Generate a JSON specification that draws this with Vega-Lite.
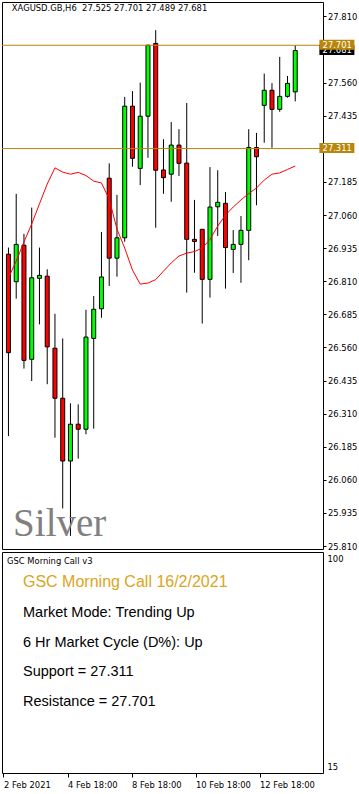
{
  "$schema": "https://vega.github.io/schema/vega-lite/v6.json",
  "background": "white",
  "padding": {"left": 1, "top": 1, "right": 0, "bottom": 0},
  "bounds": "flush",
  "spacing": 3,
  "config": {
    "view": {"stroke": "black", "strokeWidth": 1},
    "axis": {"labelFont": "DejaVu Sans", "labelFontSize": 8.4, "labelColor": "black", "tickColor": "black", "tickWidth": 1, "domain": false, "grid": false, "labelOverlap": false},
    "text": {"font": "DejaVu Sans"}
  },
  "datasets": {
    "candles": [
      {"i": 0, "t": "2021-02-02 18:00", "o": 26.912, "h": 26.937, "l": 26.225, "c": 26.540, "ma": 26.822},
      {"i": 1, "t": "2021-02-03 00:00", "o": 26.808, "h": 27.140, "l": 26.744, "c": 26.949, "ma": 26.886},
      {"i": 2, "t": "2021-02-03 06:00", "o": 26.946, "h": 26.989, "l": 26.480, "c": 26.511, "ma": 26.958},
      {"i": 3, "t": "2021-02-03 12:00", "o": 26.515, "h": 27.088, "l": 26.433, "c": 26.823, "ma": 27.026},
      {"i": 4, "t": "2021-02-03 18:00", "o": 26.821, "h": 26.937, "l": 26.647, "c": 26.832, "ma": 27.102},
      {"i": 5, "t": "2021-02-04 00:00", "o": 26.829, "h": 26.855, "l": 26.421, "c": 26.562, "ma": 27.177},
      {"i": 6, "t": "2021-02-04 06:00", "o": 26.557, "h": 26.687, "l": 26.219, "c": 26.368, "ma": 27.238},
      {"i": 7, "t": "2021-02-04 12:00", "o": 26.368, "h": 26.594, "l": 25.952, "c": 26.131, "ma": 27.222},
      {"i": 8, "t": "2021-02-04 18:00", "o": 26.131, "h": 26.349, "l": 25.848, "c": 26.270, "ma": 27.214},
      {"i": 9, "t": "2021-02-05 00:00", "o": 26.270, "h": 26.345, "l": 26.140, "c": 26.251, "ma": 27.221},
      {"i": 10, "t": "2021-02-05 06:00", "o": 26.251, "h": 26.702, "l": 26.232, "c": 26.599, "ma": 27.209},
      {"i": 11, "t": "2021-02-05 12:00", "o": 26.594, "h": 26.754, "l": 26.253, "c": 26.704, "ma": 27.188},
      {"i": 12, "t": "2021-02-05 18:00", "o": 26.706, "h": 26.996, "l": 26.672, "c": 26.826, "ma": 27.181},
      {"i": 13, "t": "2021-02-08 00:00", "o": 27.199, "h": 27.255, "l": 26.792, "c": 26.897, "ma": 27.120},
      {"i": 14, "t": "2021-02-08 06:00", "o": 26.897, "h": 27.136, "l": 26.827, "c": 26.974, "ma": 27.007},
      {"i": 15, "t": "2021-02-08 12:00", "o": 26.974, "h": 27.506, "l": 26.959, "c": 27.471, "ma": 26.935},
      {"i": 16, "t": "2021-02-08 18:00", "o": 27.471, "h": 27.528, "l": 27.242, "c": 27.274, "ma": 26.852},
      {"i": 17, "t": "2021-02-09 00:00", "o": 27.236, "h": 27.560, "l": 27.173, "c": 27.433, "ma": 26.799},
      {"i": 18, "t": "2021-02-09 06:00", "o": 27.433, "h": 27.703, "l": 27.276, "c": 27.701, "ma": 26.803},
      {"i": 19, "t": "2021-02-09 12:00", "o": 27.708, "h": 27.758, "l": 27.012, "c": 27.229, "ma": 26.816},
      {"i": 20, "t": "2021-02-09 18:00", "o": 27.230, "h": 27.346, "l": 27.140, "c": 27.201, "ma": 26.848},
      {"i": 21, "t": "2021-02-10 00:00", "o": 27.214, "h": 27.411, "l": 27.110, "c": 27.324, "ma": 26.879},
      {"i": 22, "t": "2021-02-10 06:00", "o": 27.324, "h": 27.384, "l": 27.207, "c": 27.255, "ma": 26.905},
      {"i": 23, "t": "2021-02-10 12:00", "o": 27.256, "h": 27.483, "l": 26.767, "c": 26.968, "ma": 26.916},
      {"i": 24, "t": "2021-02-10 18:00", "o": 26.968, "h": 27.117, "l": 26.842, "c": 26.960, "ma": 26.922},
      {"i": 25, "t": "2021-02-11 00:00", "o": 27.006, "h": 27.006, "l": 26.650, "c": 26.817, "ma": 26.935},
      {"i": 26, "t": "2021-02-11 06:00", "o": 26.817, "h": 27.241, "l": 26.748, "c": 27.090, "ma": 26.968},
      {"i": 27, "t": "2021-02-11 12:00", "o": 27.091, "h": 27.229, "l": 26.981, "c": 27.108, "ma": 27.018},
      {"i": 28, "t": "2021-02-11 18:00", "o": 27.104, "h": 27.147, "l": 26.782, "c": 26.937, "ma": 27.060},
      {"i": 29, "t": "2021-02-12 00:00", "o": 26.930, "h": 27.003, "l": 26.841, "c": 26.949, "ma": 27.090},
      {"i": 30, "t": "2021-02-12 06:00", "o": 26.949, "h": 27.056, "l": 26.804, "c": 27.002, "ma": 27.117},
      {"i": 31, "t": "2021-02-12 12:00", "o": 27.002, "h": 27.384, "l": 26.889, "c": 27.315, "ma": 27.141},
      {"i": 32, "t": "2021-02-12 18:00", "o": 27.315, "h": 27.370, "l": 27.097, "c": 27.280, "ma": 27.162},
      {"i": 33, "t": "2021-02-15 00:00", "o": 27.474, "h": 27.594, "l": 27.333, "c": 27.531, "ma": 27.192},
      {"i": 34, "t": "2021-02-15 06:00", "o": 27.531, "h": 27.558, "l": 27.314, "c": 27.459, "ma": 27.214},
      {"i": 35, "t": "2021-02-15 12:00", "o": 27.459, "h": 27.657, "l": 27.450, "c": 27.508, "ma": 27.219},
      {"i": 36, "t": "2021-02-15 18:00", "o": 27.508, "h": 27.585, "l": 27.503, "c": 27.557, "ma": 27.232},
      {"i": 37, "t": "2021-02-16 00:00", "o": 27.525, "h": 27.701, "l": 27.489, "c": 27.681, "ma": 27.245}
    ],
    "levels": [
      {"level": "Resistance", "price": 27.701},
      {"level": "Support", "price": 27.311}
    ],
    "last": [{"price": 27.681}],
    "symbol": [{"text": "XAGUSD.GB,H6\u00a0 27.525 27.701 27.489 27.681"}],
    "watermark": [{"text": "Silver"}],
    "caption": [{"text": "GSC Morning Call v3"}],
    "heading": [{"line": 0, "text": "GSC Morning Call 16/2/2021"}],
    "report": [
      {"line": 1, "text": "Market Mode: Trending Up"},
      {"line": 2, "text": "6 Hr Market Cycle (D%): Up"},
      {"line": 3, "text": "Support = 27.311"},
      {"line": 4, "text": "Resistance = 27.701"}
    ]
  },
  "vconcat": [
    {
      "width": 321,
      "height": 547,
      "layer": [
        {
          "data": {"name": "candles"},
          "mark": {"type": "rule", "color": "black", "strokeWidth": 1},
          "encoding": {
            "x": {"field": "i", "type": "quantitative", "scale": {"domain": [-0.1875, 39.9375], "nice": false, "zero": false}, "axis": null},
            "y": {"field": "l", "type": "quantitative", "title": null, "scale": {"domain": [25.7987, 27.86438], "nice": false, "zero": false},
                  "axis": {"title": null, "orient": "right", "values": [25.81, 25.935, 26.06, 26.185, 26.31, 26.435, 26.56, 26.685, 26.81, 26.935, 27.06, 27.185, 27.435, 27.56, 27.81], "tickCount": 30, "format": ".3f", "tickSize": 3, "labelPadding": 1.5, "labelOverlap": false}},
            "y2": {"field": "h"}
          }
        },
        {
          "data": {"name": "candles"},
          "mark": {"type": "bar", "width": 4, "stroke": "black", "strokeWidth": 1},
          "encoding": {
            "x": {"field": "i", "type": "quantitative", "axis": null},
            "y": {"field": "o", "type": "quantitative", "title": null},
            "y2": {"field": "c"},
            "color": {"condition": {"test": "datum.c >= datum.o", "value": "#00FF00"}, "value": "#FF0000"}
          }
        },
        {
          "data": {"name": "candles"},
          "mark": {"type": "line", "color": "#FF0000", "strokeWidth": 1},
          "encoding": {
            "x": {"field": "i", "type": "quantitative", "axis": null},
            "y": {"field": "ma", "type": "quantitative", "title": null}
          }
        },
        {
          "data": {"name": "levels"},
          "mark": {"type": "rule", "color": "#B8860B", "strokeWidth": 1},
          "encoding": {
            "y": {"field": "price", "type": "quantitative", "title": null}
          }
        },
        {
          "data": {"name": "symbol"},
          "mark": {"type": "text", "align": "left", "baseline": "middle", "fontSize": 8.4, "color": "black"},
          "encoding": {
            "x": {"datum": 0.4375, "type": "quantitative", "axis": null},
            "y": {"datum": 27.8406, "type": "quantitative", "title": null},
            "text": {"field": "text"}
          }
        },
        {
          "data": {"name": "watermark"},
          "mark": {"type": "text", "align": "left", "baseline": "alphabetic", "fontSize": 39, "font": "Liberation Serif", "color": "#808080"},
          "encoding": {
            "x": {"datum": 0.6, "type": "quantitative", "axis": null},
            "y": {"datum": 25.8478, "type": "quantitative", "title": null},
            "text": {"field": "text"}
          }
        },
        {
          "data": {"name": "last"},
          "mark": {"type": "bar", "width": 35, "color": "black", "yOffset": -5.5, "y2Offset": 4.5, "clip": false},
          "encoding": {
            "x": {"datum": 42.375, "type": "quantitative", "axis": null},
            "y": {"field": "price", "type": "quantitative", "title": null},
            "y2": {"field": "price"}
          }
        },
        {
          "data": {"name": "last"},
          "mark": {"type": "text", "align": "left", "baseline": "middle", "fontSize": 8.4, "color": "white", "dy": -0.5, "clip": false},
          "encoding": {
            "x": {"datum": 40.525, "type": "quantitative", "axis": null},
            "y": {"field": "price", "type": "quantitative", "title": null},
            "text": {"field": "price", "type": "quantitative", "format": ".3f"}
          }
        },
        {
          "data": {"name": "levels"},
          "mark": {"type": "bar", "width": 35, "color": "#B8860B", "yOffset": -5.5, "y2Offset": 4.5, "clip": false},
          "encoding": {
            "x": {"datum": 42.375, "type": "quantitative", "axis": null},
            "y": {"field": "price", "type": "quantitative", "title": null},
            "y2": {"field": "price"}
          }
        },
        {
          "data": {"name": "levels"},
          "mark": {"type": "text", "align": "left", "baseline": "middle", "fontSize": 8.4, "color": "white", "dy": -0.5, "clip": false},
          "encoding": {
            "x": {"datum": 40.525, "type": "quantitative", "axis": null},
            "y": {"field": "price", "type": "quantitative", "title": null},
            "text": {"field": "price", "type": "quantitative", "format": ".3f"}
          }
        }
      ]
    },
    {
      "width": 321,
      "height": 221,
      "layer": [
        {
          "data": {"name": "caption"},
          "mark": {"type": "text", "align": "left", "baseline": "middle", "fontSize": 8.4, "color": "black"},
          "encoding": {
            "x": {"datum": 0.4375, "type": "quantitative", "title": null, "scale": {"domain": [-0.1875, 39.9375], "nice": false, "zero": false},
                  "axis": {"title": null, "values": [0, 8, 16, 24, 32], "tickCount": 10, "labelExpr": "datum.value == 0 ? '2 Feb 2021' : datum.value == 8 ? '4 Feb 18:00' : datum.value == 16 ? '8 Feb 18:00' : datum.value == 24 ? '10 Feb 18:00' : '12 Feb 18:00'", "tickSize": 4, "labelPadding": 3, "labelAlign": "left", "labelBaseline": "top", "labelFlush": false, "labelOverlap": false}},
            "y": {"datum": 99.18, "type": "quantitative", "scale": {"domain": [12.253, 102.87], "nice": false, "zero": false},
                  "axis": {"title": null, "orient": "right", "values": [15, 100], "ticks": false, "labelPadding": 4, "labelOverlap": false}},
            "text": {"field": "text"}
          }
        },
        {
          "data": {"name": "heading"},
          "mark": {"type": "text", "align": "left", "baseline": "alphabetic", "font": "Liberation Sans", "fontSize": 16, "color": "#DAA520"},
          "encoding": {
            "x": {"datum": 2.4375, "type": "quantitative", "title": null},
            "y": {"field": "line", "type": "quantitative", "scale": {"domain": [-1.1765, 6.2521], "reverse": true, "nice": false, "zero": false}, "axis": null},
            "text": {"field": "text"}
          }
        },
        {
          "data": {"name": "report"},
          "mark": {"type": "text", "align": "left", "baseline": "alphabetic", "font": "Liberation Sans", "fontSize": 14.5, "color": "black"},
          "encoding": {
            "x": {"datum": 2.4375, "type": "quantitative", "title": null},
            "y": {"field": "line", "type": "quantitative", "scale": {"domain": [-1.1765, 6.2521], "reverse": true, "nice": false, "zero": false}, "axis": null},
            "text": {"field": "text"}
          }
        }
      ],
      "resolve": {"scale": {"y": "independent"}}
    }
  ]
}
